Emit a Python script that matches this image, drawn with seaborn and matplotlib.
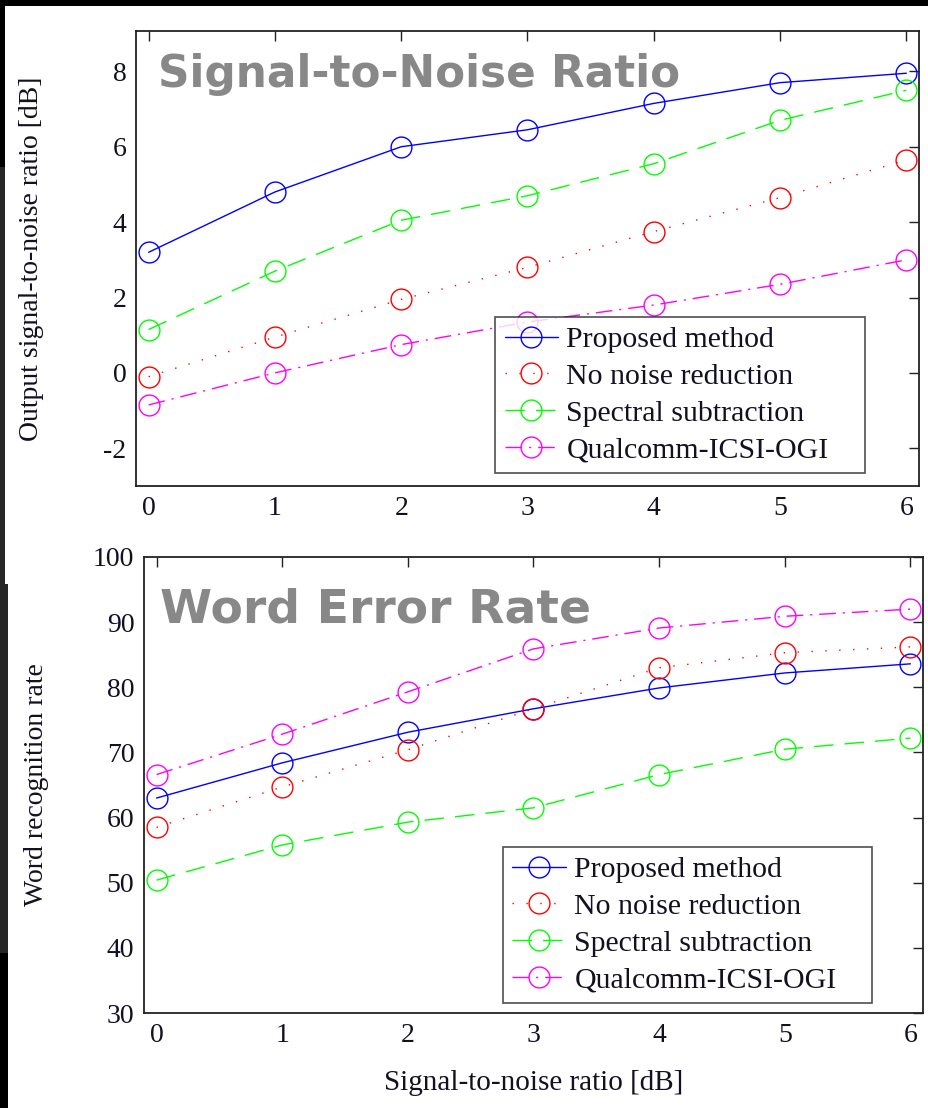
import matplotlib
matplotlib.use("Agg")
import matplotlib.pyplot as plt
from matplotlib.patches import Rectangle
import numpy as np
import pandas as pd
import seaborn as sns

# ---- data ----
snr_in = [0, 1, 2, 3, 4, 5, 6]
methods = ["Proposed method", "No noise reduction", "Spectral subtraction", "Qualcomm-ICSI-OGI"]

out_snr_proposed = [3.2, 4.8, 6.0, 6.45, 7.15, 7.7, 7.95]
out_snr_none = [-0.1, 0.95, 1.95, 2.8, 3.75, 4.65, 5.65]
out_snr_spectral = [1.15, 2.7, 4.05, 4.7, 5.55, 6.7, 7.5]
out_snr_qio = [-0.85, 0.0, 0.75, 1.35, 1.8, 2.35, 3.0]

wrr_proposed = [63.0, 68.4, 73.1, 76.7, 79.9, 82.2, 83.6]
wrr_none = [58.5, 64.7, 70.4, 76.7, 83.0, 85.3, 86.2]
wrr_spectral = [50.4, 55.8, 59.3, 61.5, 66.6, 70.5, 72.2]
wrr_qio = [66.6, 72.8, 79.3, 85.9, 89.1, 90.9, 92.0]

snr_ticks = [8, 6, 4, 2, 0, -2]
wrr_ticks = [30, 40, 50, 60, 70, 80, 90, 100]

# ---- styles ----
colors = ["#0000ff", "#ff0000", "#00ff00", "#ff00ff"]
dashes = ["-", (0, (1, 9)), (0, (14, 8)), (0, (12, 5, 1.5, 5))]

sns.set_theme(style="white")
plt.rcParams["font.family"] = ["Liberation Serif", "DejaVu Serif"]
plt.rcParams["axes.edgecolor"] = "#222222"

fig = plt.figure(figsize=(9.29, 11.08), dpi=100)
fig.patch.set_facecolor("white")

ax1 = fig.add_axes([0.1464, 0.5614, 0.8428, 0.4106])
ax2 = fig.add_axes([0.1550, 0.0857, 0.8385, 0.4116])


def draw_panel(ax, series, ylim, yticks, ylabel, title, title_xy, title_size,
               legend_box):
    for name, vals, col, ls in zip(methods, series, colors, dashes):
        df = pd.DataFrame({"x": snr_in, "y": vals})
        sns.lineplot(data=df, x="x", y="y", ax=ax, color=col, linestyle=ls,
                     linewidth=1.0, marker="o", markersize=15,
                     markerfacecolor="none", markeredgecolor=col,
                     markeredgewidth=1.0, label=name, errorbar=None)
    ax.set_xlim(-0.1, 6.1)
    ax.set_ylim(*ylim)
    ax.set_xticks(snr_in)
    ax.set_yticks(yticks)
    ax.set_yticklabels([str(t) for t in yticks])
    ax.tick_params(direction="in", length=7, width=1.0, top=True, right=True,
                   labelsize=20, pad=7, colors="#222222", labelcolor="#111122")
    for s in ax.spines.values():
        s.set_linewidth(1.3)
        s.set_color("#222222")
    ax.set_ylabel(ylabel, fontsize=20, color="#111122")
    ax.set_xlabel("")
    ax.text(title_xy[0], title_xy[1], title, transform=ax.transAxes,
            fontsize=title_size, fontweight="bold", color="#888888",
            family="DejaVu Sans", va="baseline", ha="left")
    # legend box stretched to a fixed width (extra room on the right)
    leg = ax.legend(loc="lower left", bbox_to_anchor=legend_box, mode="expand",
                    fontsize=21.5, frameon=True, fancybox=False, shadow=False,
                    handlelength=1.8, handletextpad=0.27, labelspacing=0.33,
                    borderpad=0.32, borderaxespad=0.0)
    leg.get_frame().set_edgecolor("#222222")
    leg.get_frame().set_linewidth(1.2)
    for t in leg.get_texts():
        t.set_color("#111122")
    return ax


draw_panel(ax1, [out_snr_proposed, out_snr_none, out_snr_spectral, out_snr_qio],
           (-3, 9.07), snr_ticks, "Output signal-to-noise ratio [dB]",
           "Signal-to-Noise Ratio", (0.028, 0.877), 31.5,
           (0.4585, 0.0286, 0.4725, 0.3))
ax1.yaxis.set_label_coords(-0.117, 0.5)

draw_panel(ax2, [wrr_proposed, wrr_none, wrr_spectral, wrr_qio],
           (30, 100), wrr_ticks, "Word recognition rate",
           "Word Error Rate", (0.021, 0.857), 34,
           (0.4608, 0.022, 0.4737, 0.3))
ax2.yaxis.set_label_coords(-0.122, 0.5)
ax2.set_xlabel("Signal-to-noise ratio [dB]", fontsize=21, color="#111122")
ax2.xaxis.set_label_coords(0.5, -0.125)

# dark frame strips along the top and left edges
W, H = 929, 1108
def strip(x0, y0, w, h, col):
    fig.patches.append(Rectangle((x0 / W, 1 - (y0 + h) / H), w / W, h / H,
                                 transform=fig.transFigure, facecolor=col,
                                 edgecolor="none", zorder=10))

strip(0, 0, W, 6, "#000000")
strip(0, 0, 5, 167, "#000000")
strip(0, 167, 5, 417, "#262626")
strip(0, 584, 8, 369, "#262626")
strip(0, 953, 8, 155, "#000000")

fig.savefig("out.png", dpi=100, facecolor="white")
